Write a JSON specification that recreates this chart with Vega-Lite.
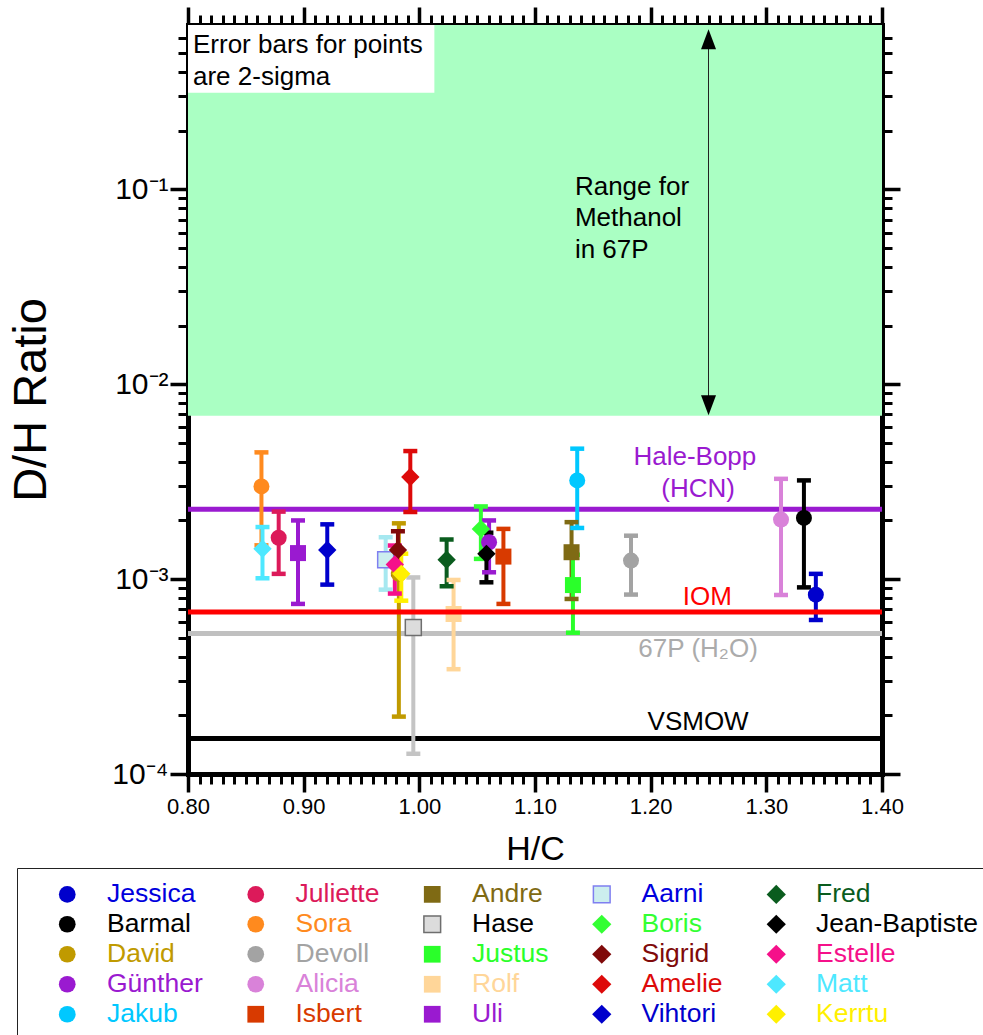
{
  "$schema": "https://vega.github.io/schema/vega-lite/v6.json",
  "width": 694,
  "height": 749,
  "autosize": {"type": "none"},
  "padding": {"left": 188, "top": 25, "right": 101, "bottom": 261},
  "background": "white",
  "config": {
    "font": "Liberation Sans",
    "view": {"stroke": null},
    "axis": {"grid": false, "zindex": 1, "tickColor": "black", "domainColor": "black", "labelColor": "black", "titleColor": "black", "titleFontWeight": "normal", "titleFont": "Liberation Sans", "labelFont": "Liberation Sans"}
  },
  "datasets": {
    "pts": [
      {"name": "Jessica", "hc": 1.3428, "dh": 0.000832, "lo": 0.000617, "hi": 0.001064},
      {"name": "Barmal", "hc": 1.3325, "dh": 0.00206, "lo": 0.000907, "hi": 0.00321},
      {"name": "David", "hc": 0.9823, "dh": 0.001065, "lo": 0.000197, "hi": 0.001933},
      {"name": "Günther", "hc": 1.0603, "dh": 0.001546, "lo": 0.001084, "hi": 0.002},
      {"name": "Jakub", "hc": 1.1365, "dh": 0.00321, "lo": 0.00183, "hi": 0.00467},
      {"name": "Juliette", "hc": 0.8784, "dh": 0.00163, "lo": 0.001064, "hi": 0.00222},
      {"name": "Sora", "hc": 0.8635, "dh": 0.00299, "lo": 0.00149, "hi": 0.00447},
      {"name": "Devoll", "hc": 1.183, "dh": 0.001245, "lo": 0.000833, "hi": 0.00167},
      {"name": "Alicia", "hc": 1.3127, "dh": 0.00202, "lo": 0.000829, "hi": 0.00327},
      {"name": "Isbert", "hc": 1.0727, "dh": 0.001305, "lo": 0.000746, "hi": 0.00181},
      {"name": "Andre", "hc": 1.1316, "dh": 0.001374, "lo": 0.000791, "hi": 0.00196},
      {"name": "Hase", "hc": 0.9948, "dh": 0.000565, "lo": 0.000127, "hi": 0.00102},
      {"name": "Justus", "hc": 1.1328, "dh": 0.000932, "lo": 0.000531, "hi": 0.001333},
      {"name": "Rolf", "hc": 1.0296, "dh": 0.000662, "lo": 0.000345, "hi": 0.00099},
      {"name": "Uli", "hc": 0.8951, "dh": 0.00136, "lo": 0.000746, "hi": 0.002},
      {"name": "Aarni", "hc": 0.9709, "dh": 0.001256, "lo": 0.000883, "hi": 0.00164},
      {"name": "Boris", "hc": 1.0532, "dh": 0.00181, "lo": 0.00127, "hi": 0.00236},
      {"name": "Sigrid", "hc": 0.9815, "dh": 0.00141, "lo": 0.00106, "hi": 0.00176},
      {"name": "Amelie", "hc": 0.9922, "dh": 0.00334, "lo": 0.00221, "hi": 0.00454},
      {"name": "Vihtori", "hc": 0.9204, "dh": 0.00141, "lo": 0.000937, "hi": 0.00191},
      {"name": "Fred", "hc": 1.0236, "dh": 0.001256, "lo": 0.000918, "hi": 0.001596},
      {"name": "Jean-Baptiste", "hc": 1.058, "dh": 0.001348, "lo": 0.000963, "hi": 0.00173},
      {"name": "Estelle", "hc": 0.9788, "dh": 0.001188, "lo": 0.000843, "hi": 0.001487},
      {"name": "Matt", "hc": 0.8644, "dh": 0.00143, "lo": 0.00101, "hi": 0.00185},
      {"name": "Kerrtu", "hc": 0.9844, "dh": 0.001064, "lo": 0.000775, "hi": 0.00135}
    ]
  },
  "resolve": {"axis": {"x": "independent", "y": "independent"}, "scale": {"color": "independent", "shape": "independent", "stroke": "independent"}},
  "layer": [
    {
      "data": {"values": [{"x1": 0.8, "x2": 1.4, "y1": 0.0069, "y2": 0.697}]},
      "mark": {"type": "rect", "color": "#aaffc3"},
      "encoding": {
        "x": {"field": "x1", "type": "quantitative", "scale": {"domain": [0.8, 1.4], "nice": false, "zero": false},
          "axis": {"orient": "bottom", "values": [0.8, 0.9, 1.0, 1.1, 1.2, 1.3, 1.4], "format": ".2f", "labelFontSize": 22, "labelPadding": 4, "labelFlush": false, "labelOverlap": false, "tickSize": 18, "tickWidth": 3.5, "domain": true, "domainWidth": 5, "domainCap": "square", "title": "H/C", "titleFontSize": 34, "titlePadding": 15}},
        "x2": {"field": "x2"},
        "y": {"field": "y1", "type": "quantitative", "scale": {"type": "log", "domain": [0.0001, 0.697], "nice": false},
          "axis": {"orient": "left", "values": [0.0001, 0.001, 0.01, 0.1], "labelExpr": "datum.value > 0.05 ? '10⁻¹' : datum.value > 0.005 ? '10⁻²' : datum.value > 0.0005 ? '10⁻³' : '10⁻⁴'", "labelFontSize": 30, "labelPadding": 2, "labelFlush": false, "labelOverlap": false, "tickSize": 18, "tickWidth": 3.5, "domain": true, "domainWidth": 5, "domainCap": "square", "title": "D/H Ratio", "titleFontSize": 47, "titlePadding": 56}},
        "y2": {"field": "y2"}
      }
    },
    {
      "data": {"values": [{"x1": 0.8, "x2": 1.013, "y1": 0.313, "y2": 0.697}]},
      "mark": {"type": "rect", "color": "white"},
      "encoding": {
        "x": {"field": "x1", "type": "quantitative",
          "axis": {"orient": "bottom", "values": [0.81,0.82,0.83,0.84,0.85,0.86,0.87,0.88,0.89,0.91,0.92,0.93,0.94,0.95,0.96,0.97,0.98,0.99,1.01,1.02,1.03,1.04,1.05,1.06,1.07,1.08,1.09,1.11,1.12,1.13,1.14,1.15,1.16,1.17,1.18,1.19,1.21,1.22,1.23,1.24,1.25,1.26,1.27,1.28,1.29,1.31,1.32,1.33,1.34,1.35,1.36,1.37,1.38,1.39], "labels": false, "tickSize": 10, "tickWidth": 3, "domain": false, "title": null}},
        "x2": {"field": "x2"},
        "y": {"field": "y1", "type": "quantitative", "scale": {"type": "log"},
          "axis": {"orient": "left", "values": [0.0002,0.0003,0.0004,0.0005,0.0006,0.0007,0.0008,0.0009,0.002,0.003,0.004,0.005,0.006,0.007,0.008,0.009,0.02,0.03,0.04,0.05,0.06,0.07,0.08,0.09,0.2,0.3,0.4,0.5,0.6], "labels": false, "tickSize": 10, "tickWidth": 3, "domain": false, "title": null}},
        "y2": {"field": "y2"}
      }
    },
    {
      "data": {"values": [{"t": "Error bars for points", "x": 0.8043, "y": 0.549}, {"t": "are 2-sigma", "x": 0.8043, "y": 0.377}]},
      "mark": {"type": "text", "align": "left", "baseline": "middle", "fontSize": 26, "color": "black"},
      "encoding": {
        "x": {"field": "x", "type": "quantitative",
          "axis": {"orient": "top", "values": [0.8, 0.9, 1.0, 1.1, 1.2, 1.3, 1.4], "labels": false, "tickSize": 18, "tickWidth": 3.5, "domain": true, "domainWidth": 5, "domainCap": "square", "title": null}},
        "y": {"field": "y", "type": "quantitative", "scale": {"type": "log"},
          "axis": {"orient": "right", "values": [0.0001, 0.001, 0.01, 0.1], "labels": false, "tickSize": 18, "tickWidth": 3.5, "domain": true, "domainWidth": 5, "domainCap": "square", "title": null}},
        "text": {"field": "t"}
      }
    },
    {
      "data": {"values": [{"t": "Range for", "x": 1.1345, "y": 0.1028}, {"t": "Methanol", "x": 1.1345, "y": 0.0713}, {"t": "in 67P", "x": 1.1345, "y": 0.0489}]},
      "mark": {"type": "text", "align": "left", "baseline": "middle", "fontSize": 26, "color": "black"},
      "encoding": {
        "x": {"field": "x", "type": "quantitative",
          "axis": {"orient": "top", "values": [0.81,0.82,0.83,0.84,0.85,0.86,0.87,0.88,0.89,0.91,0.92,0.93,0.94,0.95,0.96,0.97,0.98,0.99,1.01,1.02,1.03,1.04,1.05,1.06,1.07,1.08,1.09,1.11,1.12,1.13,1.14,1.15,1.16,1.17,1.18,1.19,1.21,1.22,1.23,1.24,1.25,1.26,1.27,1.28,1.29,1.31,1.32,1.33,1.34,1.35,1.36,1.37,1.38,1.39], "labels": false, "tickSize": 10, "tickWidth": 3, "domain": false, "title": null}},
        "y": {"field": "y", "type": "quantitative", "scale": {"type": "log"},
          "axis": {"orient": "right", "values": [0.0002,0.0003,0.0004,0.0005,0.0006,0.0007,0.0008,0.0009,0.002,0.003,0.004,0.005,0.006,0.007,0.008,0.009,0.02,0.03,0.04,0.05,0.06,0.07,0.08,0.09,0.2,0.3,0.4,0.5,0.6], "labels": false, "tickSize": 10, "tickWidth": 3, "domain": false, "title": null}},
        "text": {"field": "t"}
      }
    },
    {
      "data": {"values": [{"x": 1.25, "y": 0.0078, "y2": 0.59}]},
      "mark": {"type": "rule", "color": "#222222", "strokeWidth": 1},
      "encoding": {
        "x": {"field": "x", "type": "quantitative", "axis": null},
        "y": {"field": "y", "type": "quantitative", "scale": {"type": "log"}, "axis": null},
        "y2": {"field": "y2"}
      }
    },
    {
      "data": {"values": [{"x": 1.25, "y": 0.589}]},
      "mark": {"type": "point", "shape": "M0,-1L0.75,1L-0.75,1Z", "filled": true, "size": 400, "color": "black", "opacity": 1},
      "encoding": {
        "x": {"field": "x", "type": "quantitative", "axis": null},
        "y": {"field": "y", "type": "quantitative", "scale": {"type": "log"}, "axis": null}
      }
    },
    {
      "data": {"values": [{"x": 1.25, "y": 0.00781}]},
      "mark": {"type": "point", "shape": "M0,1L0.75,-1L-0.75,-1Z", "filled": true, "size": 400, "color": "black", "opacity": 1},
      "encoding": {
        "x": {"field": "x", "type": "quantitative", "axis": null},
        "y": {"field": "y", "type": "quantitative", "scale": {"type": "log"}, "axis": null}
      }
    },
    {
      "data": {"values": [{"line": "Hale-Bopp (HCN)", "y": 0.00228}, {"line": "67P (H2O)", "y": 0.000526}, {"line": "VSMOW", "y": 0.000152}]},
      "mark": {"type": "rule", "strokeWidth": 5},
      "encoding": {
        "y": {"field": "y", "type": "quantitative", "scale": {"type": "log"}, "axis": null},
        "color": {"condition": [{"test": "datum.line === 'Hale-Bopp (HCN)'", "value": "#9a1ad0"}, {"test": "datum.line === 'VSMOW'", "value": "#000000"}], "value": "#c0c0c0"}
      }
    },
    {
      "data": {"name": "pts"},
      "mark": {"type": "rule", "strokeWidth": 4},
      "encoding": {
        "x": {"field": "hc", "type": "quantitative", "axis": null},
        "y": {"field": "lo", "type": "quantitative", "scale": {"type": "log"}, "axis": null},
        "y2": {"field": "hi"},
        "color": {"condition": [{"test": "datum.name === 'Hase'", "value": "#c4c4c4"}, {"test": "datum.name === 'Aarni'", "value": "#a6e8f0"}], "field": "name", "type": "nominal", "legend": null,
          "scale": {"domain": ["Jessica","Barmal","David","Günther","Jakub","Juliette","Sora","Devoll","Alicia","Isbert","Andre","Hase","Justus","Rolf","Uli","Aarni","Boris","Sigrid","Amelie","Vihtori","Fred","Jean-Baptiste","Estelle","Matt","Kerrtu"],
            "range": ["#0000cc","#000000","#c09a00","#9a1ad0","#00c8ff","#dc1a5a","#ff8a1e","#a3a3a3","#d982d9","#d83a00","#7f6a14","#dcdcdc","#2aff2a","#ffd699","#9a1ad0","#cceeee","#33ff33","#800a0a","#dd0a0a","#0000cc","#0a5c1e","#000000","#f5108a","#4ee8ff","#fff000"]}}
      }
    },
    {
      "data": {"name": "pts"},
      "mark": {"type": "tick", "orient": "horizontal", "size": 14, "thickness": 4.5, "opacity": 1},
      "encoding": {
        "x": {"field": "hc", "type": "quantitative", "axis": null},
        "y": {"field": "lo", "type": "quantitative", "scale": {"type": "log"}, "axis": null},
        "color": {"condition": [{"test": "datum.name === 'Hase'", "value": "#c4c4c4"}, {"test": "datum.name === 'Aarni'", "value": "#a6e8f0"}], "field": "name", "type": "nominal", "legend": null,
          "scale": {"domain": ["Jessica","Barmal","David","Günther","Jakub","Juliette","Sora","Devoll","Alicia","Isbert","Andre","Hase","Justus","Rolf","Uli","Aarni","Boris","Sigrid","Amelie","Vihtori","Fred","Jean-Baptiste","Estelle","Matt","Kerrtu"],
            "range": ["#0000cc","#000000","#c09a00","#9a1ad0","#00c8ff","#dc1a5a","#ff8a1e","#a3a3a3","#d982d9","#d83a00","#7f6a14","#dcdcdc","#2aff2a","#ffd699","#9a1ad0","#cceeee","#33ff33","#800a0a","#dd0a0a","#0000cc","#0a5c1e","#000000","#f5108a","#4ee8ff","#fff000"]}}
      }
    },
    {
      "data": {"name": "pts"},
      "mark": {"type": "tick", "orient": "horizontal", "size": 14, "thickness": 4.5, "opacity": 1},
      "encoding": {
        "x": {"field": "hc", "type": "quantitative", "axis": null},
        "y": {"field": "hi", "type": "quantitative", "scale": {"type": "log"}, "axis": null},
        "color": {"condition": [{"test": "datum.name === 'Hase'", "value": "#c4c4c4"}, {"test": "datum.name === 'Aarni'", "value": "#a6e8f0"}], "field": "name", "type": "nominal", "legend": null,
          "scale": {"domain": ["Jessica","Barmal","David","Günther","Jakub","Juliette","Sora","Devoll","Alicia","Isbert","Andre","Hase","Justus","Rolf","Uli","Aarni","Boris","Sigrid","Amelie","Vihtori","Fred","Jean-Baptiste","Estelle","Matt","Kerrtu"],
            "range": ["#0000cc","#000000","#c09a00","#9a1ad0","#00c8ff","#dc1a5a","#ff8a1e","#a3a3a3","#d982d9","#d83a00","#7f6a14","#dcdcdc","#2aff2a","#ffd699","#9a1ad0","#cceeee","#33ff33","#800a0a","#dd0a0a","#0000cc","#0a5c1e","#000000","#f5108a","#4ee8ff","#fff000"]}}
      }
    },
    {
      "data": {"name": "pts"},
      "mark": {"type": "point", "filled": true, "opacity": 1, "size": 256, "strokeWidth": 1.5},
      "encoding": {
        "x": {"field": "hc", "type": "quantitative", "axis": null},
        "y": {"field": "dh", "type": "quantitative", "scale": {"type": "log"}, "axis": null},
        "color": {"field": "name", "type": "nominal",
          "scale": {"domain": ["Jessica","Barmal","David","Günther","Jakub","Juliette","Sora","Devoll","Alicia","Isbert","Andre","Hase","Justus","Rolf","Uli","Aarni","Boris","Sigrid","Amelie","Vihtori","Fred","Jean-Baptiste","Estelle","Matt","Kerrtu"],
            "range": ["#0000cc","#000000","#c09a00","#9a1ad0","#00c8ff","#dc1a5a","#ff8a1e","#a3a3a3","#d982d9","#d83a00","#7f6a14","#dcdcdc","#2aff2a","#ffd699","#9a1ad0","#cceeee","#33ff33","#800a0a","#dd0a0a","#0000cc","#0a5c1e","#000000","#f5108a","#4ee8ff","#fff000"]},
          "legend": {"orient": "none", "legendX": -171, "legendY": 843, "columns": 5, "columnPadding": 39.5, "rowPadding": 3, "padding": 13, "gridAlign": "each",
            "title": " ", "titleOrient": "left", "titleFontSize": 2, "titlePadding": 24,
            "labelFont": "Liberation Sans", "labelFontSize": 26.5, "labelLimit": 400, "labelOffset": 26.5, "labelBaseline": "middle",
            "labelColor": {"expr": "['#0000dd','#000000','#c09a00','#9a1ad0','#00c8ff','#dc1a5a','#ff8a1e','#a3a3a3','#d982d9','#d83a00','#7f6a14','#000000','#2aff2a','#ffd699','#9a1ad0','#0000dd','#33ff33','#800a0a','#dd0a0a','#0000cc','#0a5c1e','#000000','#f5108a','#4ee8ff','#fff000'][indexof(['Jessica','Barmal','David','Günther','Jakub','Juliette','Sora','Devoll','Alicia','Isbert','Andre','Hase','Justus','Rolf','Uli','Aarni','Boris','Sigrid','Amelie','Vihtori','Fred','Jean-Baptiste','Estelle','Matt','Kerrtu'], datum.value)]"},
            "symbolSize": 280, "symbolStrokeWidth": 1.5, "strokeColor": "#222222", "fillColor": "white"}},
        "shape": {"field": "name", "type": "nominal",
          "scale": {"domain": ["Jessica","Barmal","David","Günther","Jakub","Juliette","Sora","Devoll","Alicia","Isbert","Andre","Hase","Justus","Rolf","Uli","Aarni","Boris","Sigrid","Amelie","Vihtori","Fred","Jean-Baptiste","Estelle","Matt","Kerrtu"],
            "range": ["circle","circle","circle","circle","circle","circle","circle","circle","circle","square","square","square","square","square","square","square","M0,-1.15L1.15,0L0,1.15L-1.15,0Z","M0,-1.15L1.15,0L0,1.15L-1.15,0Z","M0,-1.15L1.15,0L0,1.15L-1.15,0Z","M0,-1.15L1.15,0L0,1.15L-1.15,0Z","M0,-1.15L1.15,0L0,1.15L-1.15,0Z","M0,-1.15L1.15,0L0,1.15L-1.15,0Z","M0,-1.15L1.15,0L0,1.15L-1.15,0Z","M0,-1.15L1.15,0L0,1.15L-1.15,0Z","M0,-1.15L1.15,0L0,1.15L-1.15,0Z"]}},
        "stroke": {"field": "name", "type": "nominal",
          "scale": {"domain": ["Jessica","Barmal","David","Günther","Jakub","Juliette","Sora","Devoll","Alicia","Isbert","Andre","Hase","Justus","Rolf","Uli","Aarni","Boris","Sigrid","Amelie","Vihtori","Fred","Jean-Baptiste","Estelle","Matt","Kerrtu"],
            "range": ["transparent","transparent","transparent","transparent","transparent","transparent","transparent","transparent","transparent","transparent","transparent","#6e6e6e","transparent","transparent","transparent","#7f7ff0","transparent","transparent","transparent","transparent","transparent","transparent","transparent","transparent","transparent"]}}
      }
    },
    {
      "data": {"values": [{"line": "IOM", "y": 0.000678}]},
      "mark": {"type": "rule", "strokeWidth": 5, "color": "#ff0000"},
      "encoding": {
        "y": {"field": "y", "type": "quantitative", "scale": {"type": "log"}, "axis": null}
      }
    },
    {
      "data": {"values": [{"t": "Hale-Bopp", "x": 1.2382, "y": 0.00423}, {"t": "(HCN)", "x": 1.241, "y": 0.0029}, {"t": "IOM", "x": 1.249, "y": 0.000813}, {"t": "67P (H₂O)", "x": 1.241, "y": 0.000438}, {"t": "VSMOW", "x": 1.241, "y": 0.000185}]},
      "mark": {"type": "text", "align": "center", "baseline": "middle", "fontSize": 26},
      "encoding": {
        "x": {"field": "x", "type": "quantitative", "axis": null},
        "y": {"field": "y", "type": "quantitative", "scale": {"type": "log"}, "axis": null},
        "text": {"field": "t"},
        "color": {"condition": [{"test": "datum.t === 'Hale-Bopp' || datum.t === '(HCN)'", "value": "#9a1ad0"}, {"test": "datum.t === 'IOM'", "value": "#ff0000"}, {"test": "datum.t === 'VSMOW'", "value": "#000000"}], "value": "#ababab"}
      }
    }
  ]
}
